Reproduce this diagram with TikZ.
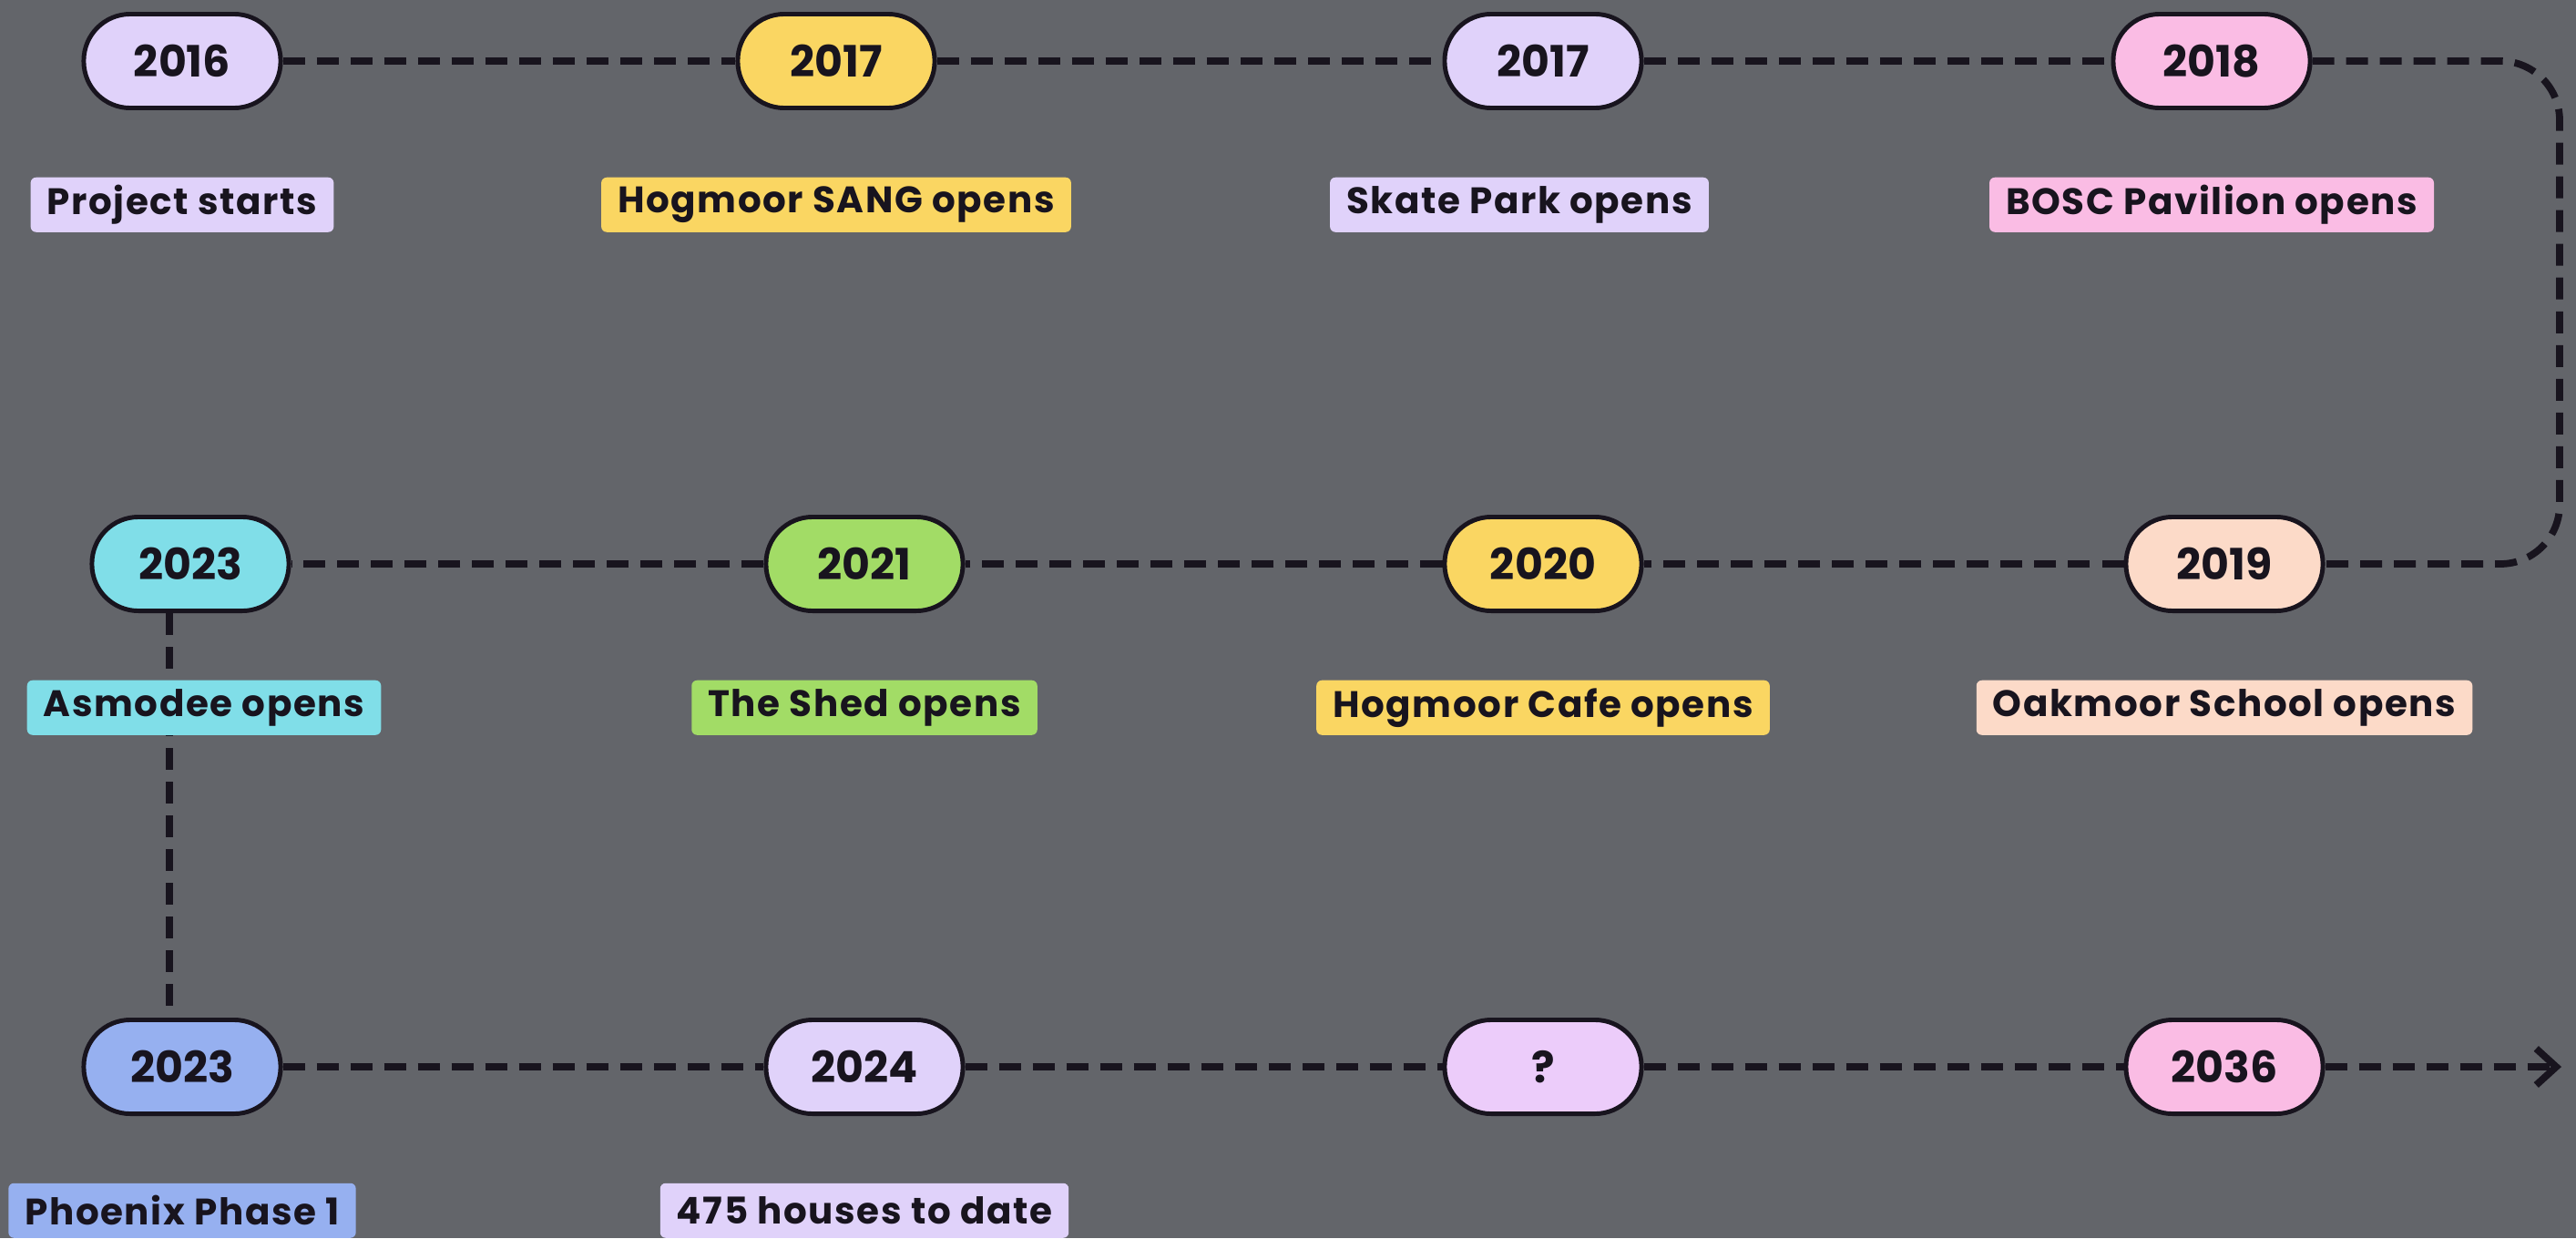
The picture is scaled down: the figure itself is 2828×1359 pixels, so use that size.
\documentclass[tikz,border=0pt]{standalone}
\usepackage{fontspec}
\setmainfont{Poppins}
\newfontfamily\eventfont{Poppins}[LetterSpace=4]
\usetikzlibrary{positioning, arrows.meta, backgrounds}

\definecolor{slate}{RGB}{99,101,106}
\definecolor{ink}{RGB}{24,20,30}
\definecolor{lilac}{RGB}{224,210,250}
\definecolor{sun}{RGB}{250,214,98}
\definecolor{blush}{RGB}{250,188,228}
\definecolor{peach}{RGB}{252,218,200}
\definecolor{aqua}{RGB}{128,222,232}
\definecolor{leaf}{RGB}{162,220,102}
\definecolor{cornflower}{RGB}{150,176,240}
\definecolor{orchid}{RGB}{236,204,250}

\tikzset{
  node distance=0.73cm,
  year/.style={draw=ink, line width=1.4pt, rounded corners=0.51cm,
    minimum width=2.16cm, minimum height=1.03cm, text=ink,
    font=\bfseries\fontsize{13.5}{15}\selectfont},
  event/.style={rounded corners=0.06cm, minimum height=0.6cm,
    inner xsep=0.18cm, inner ysep=0.05cm, text=ink,
    font=\eventfont\bfseries\fontsize{11.5}{13}\selectfont},
  link/.style={draw=ink, line width=2.2pt, dash pattern=on 0.24cm off 0.13cm},
}

\begin{document}
\begin{tikzpicture}[x=0.01cm, y=0.01cm]
  \useasboundingbox (0,0) rectangle (2828,1359);

  % years
  \node[year, fill=lilac] (y2016) at (200,1292) {2016};
  \node[year, fill=sun] (y2017a) at (918,1292) {2017};
  \node[year, fill=lilac] (y2017b) at (1694,1292) {2017};
  \node[year, fill=blush] (y2018) at (2428,1292) {2018};
  \node[year, fill=peach] (y2019) at (2442,740) {2019};
  \node[year, fill=sun] (y2020) at (1694,740) {2020};
  \node[year, fill=leaf] (y2021) at (949,740) {2021};
  \node[year, fill=aqua] (y2023a) at (209,740) {2023};
  \node[year, fill=cornflower] (y2023b) at (200,188) {2023};
  \node[year, fill=lilac] (y2024) at (949,188) {2024};
  \node[year, fill=orchid] (yq) at (1694,188) {?};
  \node[year, fill=blush] (y2036) at (2442,188) {2036};

  % events
  \node[event, fill=lilac, below=of y2016] (e2016) {Project starts};
  \node[event, fill=sun, below=of y2017a] (e2017a) {Hogmoor SANG opens};
  \node[event, fill=lilac, below=of y2017b, xshift=-0.26cm] (e2017b) {Skate Park opens};
  \node[event, fill=blush, below=of y2018] (e2018) {BOSC Pavilion opens};
  \node[event, fill=peach, below=of y2019] (e2019) {Oakmoor School opens};
  \node[event, fill=sun, below=of y2020] (e2020) {Hogmoor Cafe opens};
  \node[event, fill=leaf, below=of y2021] (e2021) {The Shed opens};
  \node[event, fill=aqua, below=of y2023a, xshift=0.15cm] (e2023a) {Asmodee opens};
  \node[event, fill=cornflower, below=of y2023b] (e2023b) {Phoenix Phase 1};
  \node[event, fill=lilac, below=of y2024] (e2024) {475 houses to date};

  \coordinate (bendTop) at (2810,1292);
  \coordinate (bendBot) at (2810,740);
  \coordinate (drop) at (186,0);
  \coordinate (arrowEnd) at (2812,188);

  \begin{scope}[on background layer]
    \fill[slate] (0,0) rectangle (2828,1359);
    \draw[link] (y2016) -- (y2017a) -- (y2017b) -- (y2018);
    \draw[link, rounded corners=0.65cm] (y2018) -- (bendTop) -- (bendBot) -- (y2019);
    \draw[link] (y2019) -- (y2020) -- (y2021) -- (y2023a);
    \draw[link] (y2023a.south -| drop) -- (y2023b.north -| drop);
    \draw[link] (y2023b) -- (y2024) -- (yq) -- (y2036);
    \draw[link, -{Straight Barb[length=0.22cm, width=0.4cm]}] (y2036) -- (arrowEnd);
  \end{scope}
\end{tikzpicture}
\end{document}
